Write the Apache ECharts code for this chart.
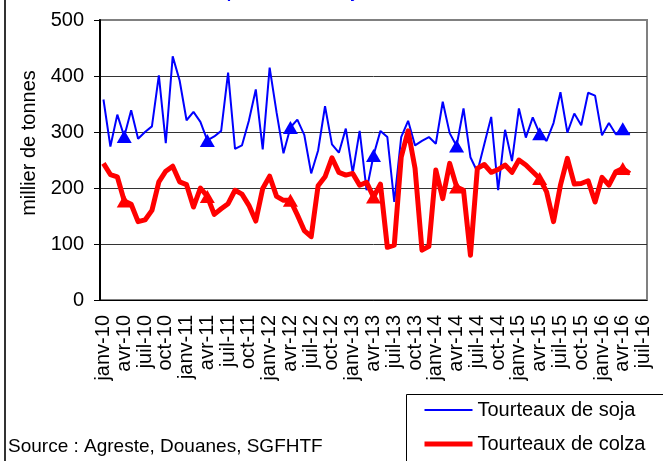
<!DOCTYPE html>
<html>
<head>
    <meta charset="UTF-8">
    <title>Tourteaux de soja et de colza</title>
    <script src="https://cdn.jsdelivr.net/npm/echarts@6/dist/echarts.min.js"></script>
    <style>
        body { margin: 0; background: #fff; }
    </style>
</head>
<body>
<div id="chart" style="width:663px; height:461px;"></div>
<script>
    // mois de janv-10 a juil-16
    var moisNoms = ['janv', 'févr', 'mars', 'avr', 'mai', 'juin', 'juil', 'août', 'sept', 'oct', 'nov', 'déc'];
    var annees = ['10', '11', '12', '13', '14', '15', '16'];

    // milliers de tonnes, janv-10 -> mai-16
    var soja = [358, 274, 331, 292, 339, 288, 300, 310, 401, 280, 435, 392,
                321, 336, 318, 285, 292, 302, 406, 270, 276, 320, 376, 269,
                415, 335, 262, 308, 322, 295, 226, 267, 346, 278, 263, 306,
                227, 302, 196, 258, 302, 291, 175, 291, 320, 276, 284, 291,
                279, 354, 298, 275, 342, 255, 229, 278, 327, 196, 304, 248,
                342, 290, 326, 297, 284, 316, 371, 299, 333, 312, 370, 365,
                294, 316, 296, 306, 296];
    var colza = [244, 224, 220, 177, 171, 140, 143, 160, 211, 230, 239, 211,
                 206, 166, 200, 185, 153, 163, 172, 196, 189, 169, 141, 199,
                 221, 185, 178, 178, 152, 124, 113, 204, 220, 254, 228, 223,
                 226, 205, 210, 184, 207, 94, 98, 255, 302, 235, 89, 96,
                 232, 181, 244, 202, 196, 80, 235, 242, 228, 233, 241, 228,
                 250, 241, 229, 217, 193, 140, 205, 253, 207, 208, 213, 175,
                 219, 205, 229, 235, 226];

    var categories = [];
    annees.forEach(function (a) {
        moisNoms.forEach(function (m, i) {
            if (a === '16' && i > 6) return;
            categories.push(m + '-' + a);
        });
    });

    // triangle sur chaque mois d'avril
    function avecMarques(values) {
        return values.map(function (v, i) {
            if (categories[i].indexOf('avr') === 0) {
                return {value: v, symbol: 'triangle', symbolSize: [15, 13]};
            }
            return v;
        });
    }

    var police = "'Liberation Sans', Arial, sans-serif";
    var chart = echarts.init(document.getElementById('chart'), null, {renderer: 'canvas'});
    var option = {
        animation: false,
        textStyle: {fontFamily: police},
        grid: {
            left: 100, right: 16, top: 20, bottom: 161,
            show: true, borderColor: '#808080', borderWidth: 2
        },
        graphic: [
            {type: 'line', shape: {x1: 5, y1: 0, x2: 5, y2: 461}, style: {stroke: '#333', lineWidth: 2}},
            {type: 'text', x: 208, y: -6, style: {text: 'Importations de soja et colza', font: 'bold 16px ' + police, fill: '#0000ff', verticalAlign: 'middle'}},
            {type: 'text', x: 8, y: 447, style: {text: 'Source : Agreste, Douanes, SGFHTF', font: '19px ' + police, fill: '#000', verticalAlign: 'middle'}},
            {type: 'rect', shape: {x: 406.5, y: 394.5, width: 300, height: 100}, style: {fill: '#fff', stroke: '#000', lineWidth: 1}, z: -1}
        ],
        legend: {
            orient: 'vertical',
            left: 422, top: 400,
            padding: 0,
            itemWidth: 48, itemHeight: 14, itemGap: 14,
            itemStyle: {opacity: 0},
            textStyle: {fontSize: 20, lineHeight: 20, color: '#000'},
            data: [
                {name: 'Tourteaux de soja', lineStyle: {width: 2}},
                {name: 'Tourteaux de colza', lineStyle: {width: 5}}
            ]
        },
        xAxis: {
            type: 'category',
            data: categories,
            boundaryGap: true,
            axisLine: {lineStyle: {color: '#000', width: 1}},
            axisTick: {interval: 2, length: 7, lineStyle: {color: '#000'}},
            axisLabel: {interval: 2, rotate: 90, margin: 15, fontSize: 20, color: '#000'}
        },
        yAxis: {
            type: 'value',
            min: 0, max: 500, interval: 100,
            name: 'millier de tonnes',
            nameLocation: 'middle',
            nameGap: 60,
            nameTextStyle: {fontSize: 20, color: '#000', padding: [0, 0, 0, 34]},
            axisLine: {show: true, lineStyle: {color: '#000', width: 2}},
            axisTick: {show: true, length: 6, lineStyle: {color: '#000'}},
            axisLabel: {margin: 16, fontSize: 20, color: '#000'},
            splitLine: {lineStyle: {color: ['#333', '#333', '#333', '#333', '#333', '#808080'], width: 1}}
        },
        series: [{
            name: 'Tourteaux de soja',
            type: 'line',
            symbol: 'none',
            color: '#0000ff',
            lineStyle: {width: 2, color: '#0000ff'},
            itemStyle: {color: '#0000ff'},
            data: avecMarques(soja)
        }, {
            name: 'Tourteaux de colza',
            type: 'line',
            symbol: 'none',
            color: '#ff0000',
            lineStyle: {width: 5, color: '#ff0000', join: 'round'},
            itemStyle: {color: '#ff0000'},
            data: avecMarques(colza)
        }]
    };
    chart.setOption(option);
</script>
</body>
</html>
